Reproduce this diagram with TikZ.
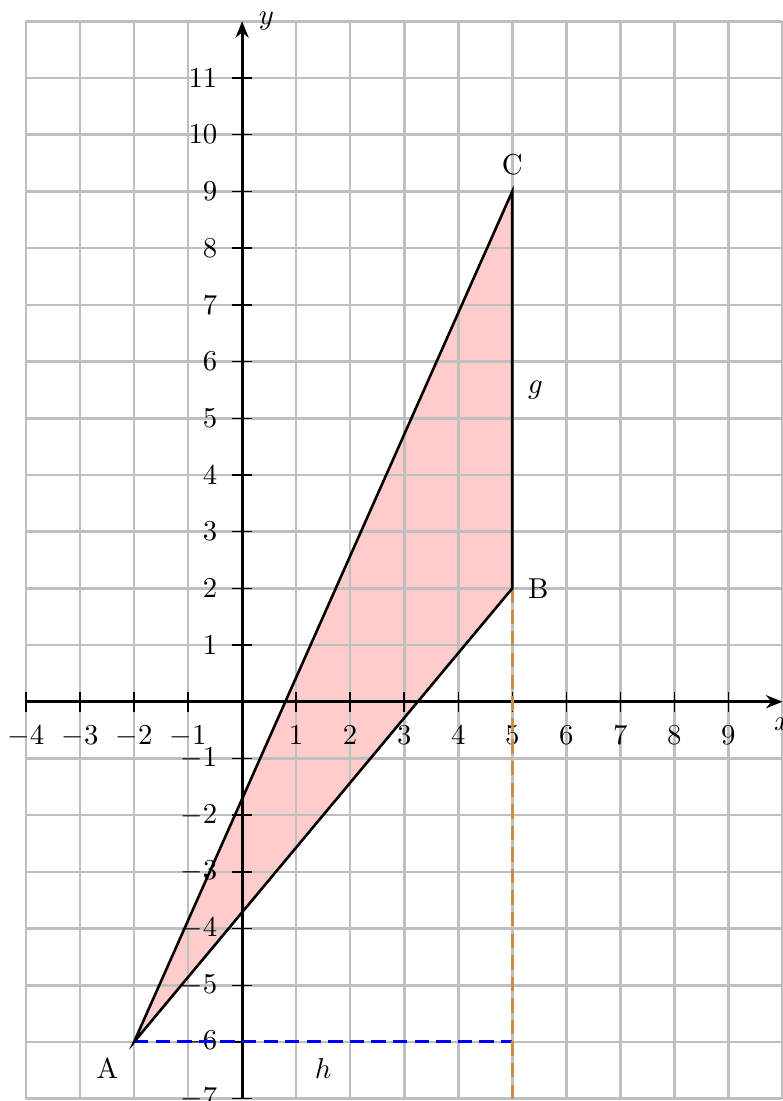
\documentclass[tikz,border=0pt]{standalone}
\usepackage{tikz}
\usetikzlibrary{arrows.meta}
\definecolor{ora}{RGB}{205,140,72}

\begin{document}
\begin{tikzpicture}[x=0.66cm,y=0.6926cm,
  gridln/.style={lightgray,line width=0.9pt,step=1},
  axis/.style={-{Stealth[length=2mm,width=1.6mm]},line width=1pt},
  tk/.style={line width=0.5pt},
  side/.style={black,line width=0.9pt},
  helpln/.style={line width=1pt,dash pattern=on 5pt off 2.5pt},
  pt/.style={font=\normalsize}]
\useasboundingbox (-4.481,-7.042) rectangle (10.01,12.376);
\coordinate (A) at (-2,-6);
\coordinate (B) at (5,2);
\coordinate (C) at (5,9);
\coordinate (H) at (5,-6);
\coordinate (F) at (5,-7);
\coordinate (xs) at (-4,0);
\coordinate (xe) at (10,0);
\coordinate (ys) at (0,-7);
\coordinate (ye) at (0,12);
% triangle area
\fill[red!20] (A) -- (B) -- (C) -- cycle;
\draw[gridln] (-4,-7) grid (10,12);
% axes
\draw[axis] (xs) -- (xe) node[below=2pt] (xlab) {$x$};
\draw[axis] (ys) -- (ye) node[right=2pt] (ylab) {$y$};
\foreach \x in {-4,...,9} \draw[tk] (\x,-0.176) -- (\x,0.176);
\foreach \y in {-7,...,11} \draw[tk] (-0.185,\y) -- (0.185,\y);
\foreach \x in {-4,-3,-2,-1,1,2,3,4,5,6,7,8,9} \node[below] (xl\x) at (\x,-0.24) {$\x$};
\foreach \y in {-7,-6,-5,-4,-3,-2,-1,1,2,3,4,5,6,7,8,9,10,11} \node[left] (yl\y) at (-0.27,\y) {$\y$};
% helper lines
\draw[helpln,blue] (A) -- (H) node[midway,below=2pt,black] (labh) {$h$};
\draw[helpln,ora] (B) -- (F);
% sides
\draw[side] (A) -- (B) -- (C) -- cycle;
\path (B) -- (C) node[midway,right=2pt] (labg) {$g$};
\node[pt,below left=2pt] (labA) at (A) {A};
\node[pt,right=2pt] (labB) at (B) {B};
\node[pt,above=2pt] (labC) at (C) {C};
\end{tikzpicture}
\end{document}
